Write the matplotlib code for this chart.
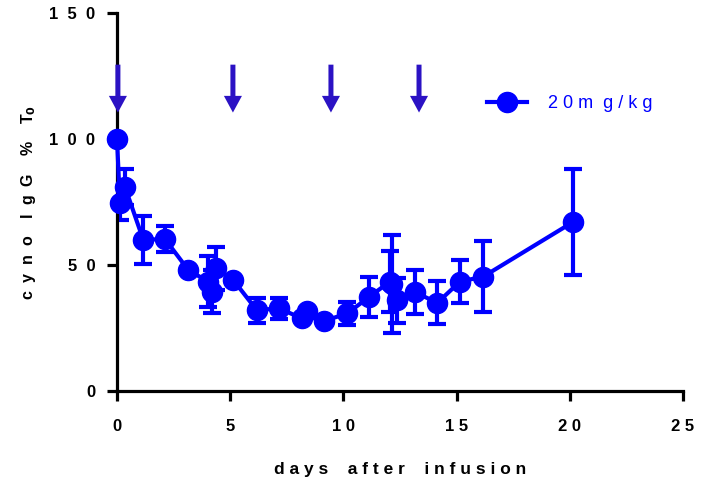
import matplotlib
matplotlib.use("Agg")
import matplotlib.pyplot as plt

# data
days = [0, 0.13, 0.35, 1.16, 2.12, 3.15, 4.03, 4.18, 4.37, 5.14, 6.17, 7.17,
        8.16, 8.38, 9.16, 10.17, 11.15, 12.05, 12.15, 12.35, 13.16, 14.15,
        15.15, 16.18, 20.15]
igg = [100, 74.5, 81, 60, 60.3, 48, 43.4, 39.4, 48.7, 44, 32.1, 32.8,
       28.8, 31.9, 27.8, 30.8, 37.4, 43.4, 42.5, 36, 39.2, 35,
       43.4, 45.4, 67.1]
igg_err = [1, 6.5, 7, 9.5, 5.3, 1, 10, 8.6, 8.6, 1, 5, 4.2,
           1, 1, 1, 4.6, 8, 12, 19.5, 9, 8.7, 8.5,
           8.5, 14.2, 21]
dose_days = [0.04, 5.12, 9.45, 13.34]  # infusion arrows

xticks = [0, 5, 10, 15, 20, 25]
yticks = [0, 50, 100, 150]

BLUE = "#0000ff"
ARROW = "#2b12c4"


def spaced(s, gap=" ", word_gap="    "):
    # mimic the wide letter spacing of the original
    return word_gap.join(gap.join(w) for w in s.split(" "))


plt.rcParams["font.family"] = ["Liberation Sans", "DejaVu Sans"]

fig = plt.figure(figsize=(7.06, 4.79), dpi=100)
ax = fig.add_axes([117 / 706, 1 - 391 / 479, 566 / 706, 378 / 479])

ax.errorbar(days, igg, yerr=igg_err, fmt="none", ecolor=BLUE,
            elinewidth=3, capsize=6.5, capthick=3, zorder=2)
ax.plot(days, igg, "o-", color=BLUE, lw=3, ms=14.5, label="2 0 m  g / k g",
        zorder=3, clip_on=False)

# infusion arrows
for d in dose_days:
    ax.annotate("", xy=(d, 110.5), xytext=(d, 129.5),
                arrowprops=dict(width=3.6, headwidth=13, headlength=12,
                                shrink=0, color=ARROW, lw=0))

ax.set_xlim(0, 25)
ax.set_ylim(0, 150)
ax.set_xticks(xticks)
ax.set_xticklabels([spaced(str(t)) for t in xticks], fontweight="bold", fontsize=12)
ax.set_yticks(yticks)
ax.set_yticklabels([spaced(str(t), gap="  ") for t in yticks], fontweight="bold", fontsize=12)

for side in ["top", "right"]:
    ax.spines[side].set_visible(False)
for side in ["left", "bottom"]:
    ax.spines[side].set_linewidth(2.3)
ax.tick_params(axis="both", width=2.3, length=7.5)
ax.tick_params(axis="x", pad=13)
ax.tick_params(axis="y", pad=8)

ax.set_xlabel(spaced("days after infusion"), fontweight="bold", fontsize=12.5, labelpad=20)
ax.set_ylabel("c  y  n  o    I  g  G    %    T$_\\mathbf{0}$", fontweight="bold",
              fontsize=11.5, labelpad=8)

leg = ax.legend(loc="center left", bbox_to_anchor=(487 / 706, 1 - 104 / 479),
                bbox_transform=fig.transFigure, frameon=False, borderpad=0,
                borderaxespad=0, handlelength=2.2, handletextpad=1.2,
                numpoints=1, fontsize=13)
for t in leg.get_texts():
    t.set_color(BLUE)

fig.savefig("out.png", dpi=100)
